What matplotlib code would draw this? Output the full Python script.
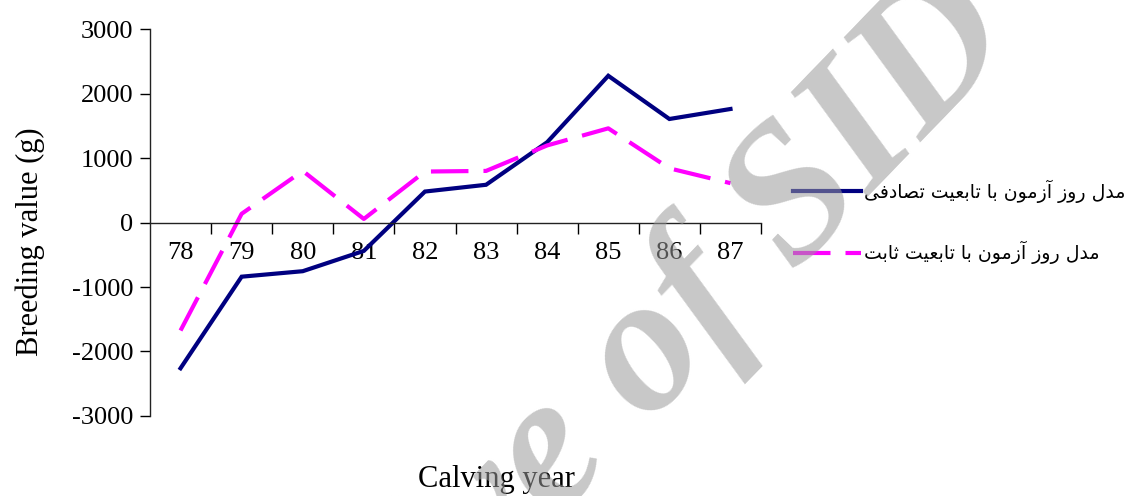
import matplotlib
matplotlib.use("Agg")
import matplotlib.pyplot as plt

# --- data ---
years = ["78", "79", "80", "81", "82", "83", "84", "85", "86", "87"]
random_reg = [-2260, -840, -755, -440, 480, 585, 1245, 2275, 1605, 1760]
fixed_reg = [-1675, 135, 800, 55, 790, 800, 1195, 1460, 840, 610]
y_ticks = [-3000, -2000, -1000, 0, 1000, 2000, 3000]
label_random = "مدل روز آزمون با تابعیت تصادفی"
label_fixed = "مدل روز آزمون با تابعیت ثابت"

# simple Arabic/Persian shaping (matplotlib has no complex text layout)
FORMS = {
    "ا": ("\uFE8D", "\uFE8E", None, None),
    "آ": ("\uFE81", "\uFE82", None, None),
    "د": ("\uFEA9", "\uFEAA", None, None),
    "ر": ("\uFEAD", "\uFEAE", None, None),
    "ز": ("\uFEAF", "\uFEB0", None, None),
    "و": ("\uFEED", "\uFEEE", None, None),
    "ب": ("\uFE8F", "\uFE90", "\uFE91", "\uFE92"),
    "ت": ("\uFE95", "\uFE96", "\uFE97", "\uFE98"),
    "ث": ("\uFE99", "\uFE9A", "\uFE9B", "\uFE9C"),
    "ص": ("\uFEB9", "\uFEBA", "\uFEBB", "\uFEBC"),
    "ع": ("\uFEC9", "\uFECA", "\uFECB", "\uFECC"),
    "ف": ("\uFED1", "\uFED2", "\uFED3", "\uFED4"),
    "ل": ("\uFEDD", "\uFEDE", "\uFEDF", "\uFEE0"),
    "م": ("\uFEE1", "\uFEE2", "\uFEE3", "\uFEE4"),
    "ن": ("\uFEE5", "\uFEE6", "\uFEE7", "\uFEE8"),
    "ی": ("\uFBFC", "\uFBFD", "\uFBFE", "\uFBFF"),
}


def shape(s):
    out = []
    for i, c in enumerate(s):
        if c not in FORMS:
            out.append(c)
            continue
        prev = s[i - 1] if i > 0 else " "
        nxt = s[i + 1] if i < len(s) - 1 else " "
        join_prev = prev in FORMS and FORMS[prev][2] is not None
        join_next = FORMS[c][2] is not None and nxt in FORMS
        iso, fin, ini, med = FORMS[c]
        if join_prev and join_next:
            out.append(med)
        elif join_prev:
            out.append(fin)
        elif join_next:
            out.append(ini)
        else:
            out.append(iso)
    return "".join(out)[::-1]


plt.rcParams["font.family"] = ["Liberation Serif", "DejaVu Sans"]

fig = plt.figure(figsize=(11.31, 4.96), dpi=100)
ax = fig.add_axes([0.1326, 0.1613, 0.5403, 0.7802])

x = [i + 0.5 for i in range(len(years))]
l1, = ax.plot(x, random_reg, color="#000080", lw=3.0, solid_joinstyle="miter")
l2, = ax.plot(x, fixed_reg, color="#ff00ff", lw=3.0, linestyle=(0, (9, 3.6)),
              dash_capstyle="butt")

ax.set_xlim(0, len(years))
ax.set_ylim(-3000, 3000)
ax.spines["top"].set_visible(False)
ax.spines["right"].set_visible(False)
ax.spines["bottom"].set_position(("data", 0))
for sp in ("left", "bottom"):
    ax.spines[sp].set_linewidth(1.0)
    ax.spines[sp].set_color("#222222")

ax.set_yticks(y_ticks)
ax.set_yticklabels([str(v) for v in y_ticks])
ax.tick_params(axis="y", direction="out", length=7, width=1, labelsize=19, pad=5)

ax.set_xticks(range(1, len(years) + 1))
ax.set_xticklabels([])
ax.tick_params(axis="x", which="major", direction="out", length=8, width=1)
ax.set_xticks(x, minor=True)
ax.set_xticklabels(years, minor=True)
ax.tick_params(axis="x", which="minor", length=0, labelsize=19, pad=14)

fig.text(30 / 1131, 1 - 242 / 496, "Breeding value (g)", rotation=90,
         ha="center", va="center", fontsize=22)
fig.text(496 / 1131, 1 - 480 / 496, "Calving year", ha="center", va="center",
         fontsize=22)

leg = fig.legend([l1, l2], [shape(label_random), shape(label_fixed)],
                 loc="center left", bbox_to_anchor=(0.6865, 1 - 222 / 496),
                 frameon=False, handlelength=3.6, handletextpad=0.15,
                 labelspacing=2.0, prop={"family": "DejaVu Sans", "size": 13.6})

# watermark
fig.text(602 / 1131, 1 - 482 / 496, "Archive of SID", rotation=46,
         rotation_mode="anchor", ha="center", va="baseline", fontsize=140,
         fontweight="bold", fontstyle="italic", color="#9a9a9a", alpha=0.55,
         zorder=10)

fig.savefig("out.png", dpi=100)
